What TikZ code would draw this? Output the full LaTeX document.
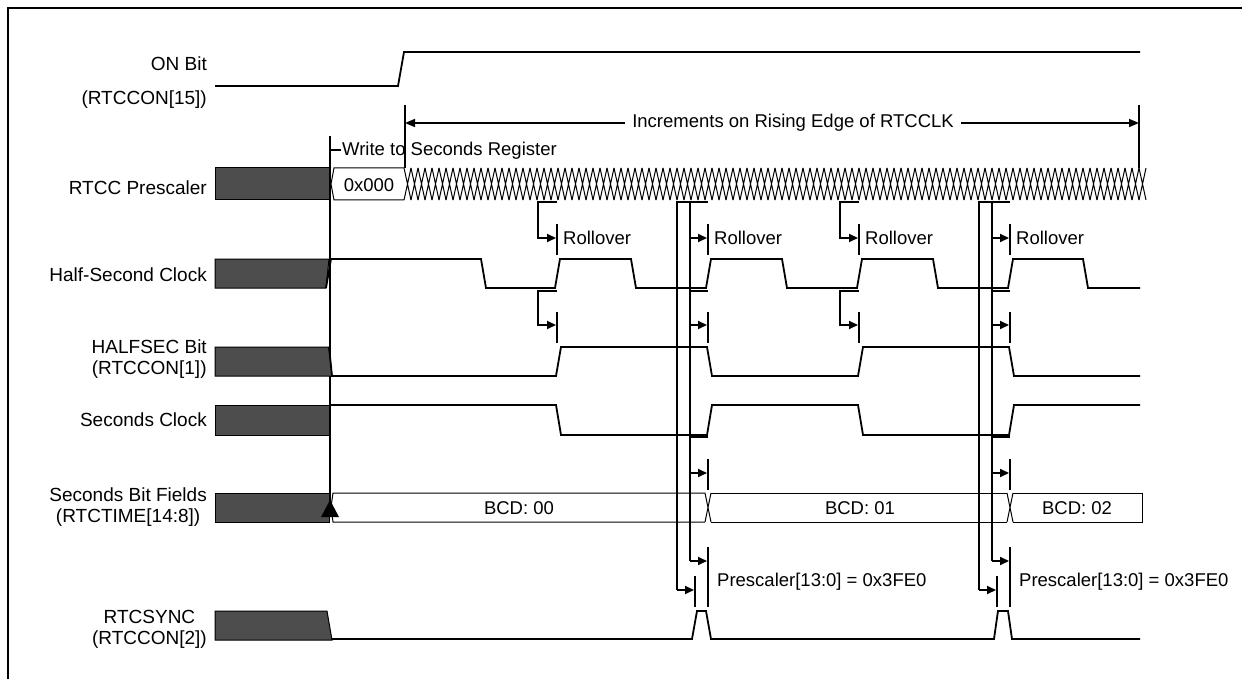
\documentclass[tikz,border=0pt]{standalone}
\usepackage{fontspec}
\setmainfont{Liberation Sans}
\usetikzlibrary{arrows.meta}
\definecolor{boxgray}{RGB}{77,77,77}
\newcommand{\rollsingle}[1]{%
  \draw[wave] (#1,202) -- ({#1-19},202) -- ({#1-19},238) [tipr] -- ({#1-1},238);
  \draw[wave] (#1,224) -- (#1,255);
  \node[txt,anchor=west] at ({#1+6},238) {Rollover};
  \draw[wave] (#1,291) -- ({#1-19},291) -- ({#1-19},325) [tipr] -- ({#1-1},325);
  \draw[wave] (#1,312) -- (#1,343);
}
\newcommand{\rolldouble}[1]{%
  \draw[wave] (#1,202) -- ({#1-31},202) -- ({#1-31},590);
  \draw[wave,tipr] ({#1-31},590) -- ({#1-14},590);
  \draw[wave] ({#1-18},202) -- ({#1-18},561);
  \draw[wave,tipr] ({#1-18},561) -- ({#1-1},561);
  \draw[wave,tipr] ({#1-18},238) -- ({#1-1},238);
  \draw[wave,tipr] ({#1-18},325) -- ({#1-1},325);
  \draw[wave,tipr] ({#1-18},473) -- ({#1-1},473);
  \draw[wave] ({#1-18},291) -- (#1,291);
  \draw[wave] ({#1-18},437) -- (#1,437);
  \draw[wave] (#1,224) -- (#1,255);
  \draw[wave] (#1,312) -- (#1,343);
  \draw[wave] (#1,459) -- (#1,490);
  \draw[wave] (#1,547) -- (#1,607);
  \draw[wave] ({#1-13},576) -- ({#1-13},607);
  \node[txt,anchor=west] at ({#1+6},238) {Rollover};
  \node[txt,anchor=west] at ({#1+9},582) {Prescaler[13:0] = 0x3FE0};
}
\begin{document}
\begin{tikzpicture}[x=1pt,y=-1pt,
  wave/.style={line width=1.8pt, line join=miter},
  busline/.style={line width=1pt},
  lbl/.style={font=\fontsize{19}{21}\selectfont, align=center, anchor=east, inner sep=0pt},
  txt/.style={font=\fontsize{18.5}{21}\selectfont, inner sep=0pt},
  dark/.style={fill=boxgray, draw=black, line width=1pt},
  tipr/.style={-{Triangle[length=9pt,width=8pt]}},
]
\useasboundingbox (0,0) rectangle (1242,679);
% frame
\draw[line width=2.5pt] (8,679) -- (8,8) -- (1242,8);

% labels
\node[lbl] (lon) at (207,64) {ON Bit};
\node[lbl] (lon2) at (207,100) {(RTCCON[15])};
\node[lbl] (lpre) at (207,188) {RTCC Prescaler};
\node[lbl] (lhalf) at (207,275) {Half-Second Clock};
\node[lbl] (lhb) at (207,359) {HALFSEC Bit\\(RTCCON[1])};
\node[lbl] (lsec) at (207,420) {Seconds Clock};
\node[lbl] (lsbf) at (207,507) {Seconds Bit Fields\\(RTCTIME[14:8])};
\node[lbl] (lsync) at (207,629) {RTCSYNC\\(RTCCON[2])};

% ON bit
\draw[wave] (215,86) -- (398,86) -- (404,52) -- (1140,52);

% increments arrow
\coordinate (incL) at (405,123);
\coordinate (incR) at (1139,123);
\draw[line width=1.5pt] (405,105) -- (405,168);
\draw[line width=1.5pt] (1139,105) -- (1139,168);
\draw[line width=1.5pt, {Triangle[length=10pt,width=8pt]}-{Triangle[length=10pt,width=8pt]}] (incL) -- (incR);
\node[txt, fill=white, inner xsep=7pt, inner ysep=4pt] (inc) at (793,123) {Increments on Rising Edge of RTCCLK};

% write to seconds register
\draw[line width=1.8pt] (330,136) -- (330,510);
\draw[line width=1.5pt] (330,150) -- (341,150);
\node[txt, anchor=west] (wr) at (342,151) {Write to Seconds Register};

% prescaler
\draw[dark] (215,168) rectangle (329,200);
\draw[busline] (404,168) -- (334,168) -- (331,184) -- (334,200) -- (404,200);
\node[txt] (p0) at (369,185) {0x000};
\foreach \i in {0,...,105} {
  \draw[busline] ({404+7*\i},168) -- ({411+7*\i},200) ({404+7*\i},200) -- ({411+7*\i},168);
}

% half-second clock
\draw[dark] (215,259) -- (329,259) -- (326,288) -- (215,288) -- cycle;
\draw[wave] (326,288) -- (331,259) -- (481,259) -- (486,288) -- (555,288) -- (560,259) -- (631,259) -- (636,288) -- (706,288) -- (711,259) -- (782,259) -- (787,288) -- (857,288) -- (862,259) -- (933,259) -- (938,288) -- (1008,288) -- (1013,259) -- (1083,259) -- (1088,288) -- (1140,288);

% HALFSEC bit
\draw[dark] (215,347) -- (329,347) -- (332,376) -- (215,376) -- cycle;
\draw[wave] (329,347) -- (332,376) -- (556,376) -- (561,347) -- (707,347) -- (712,376) -- (858,376) -- (863,347) -- (1009,347) -- (1014,376) -- (1140,376);

% seconds clock
\draw[dark] (215,405) -- (329,405) -- (329,435) -- (215,435) -- cycle;
\draw[wave] (329,405) -- (556,405) -- (561,435) -- (707,435) -- (712,405) -- (858,405) -- (863,435) -- (1009,435) -- (1014,405) -- (1140,405);

% seconds bit fields
\draw[dark] (215,493) rectangle (329,522);
\draw[busline] (705,493) -- (333,493) -- (331,507) -- (333,522) -- (705,522);
\draw[busline] (705,493) -- (711,522) (705,522) -- (711,493);
\draw[busline] (711,493) -- (1007,493) (711,522) -- (1007,522);
\draw[busline] (1007,493) -- (1013,522) (1007,522) -- (1013,493);
\draw[busline] (1013,493) -- (1142,493) -- (1142,522) -- (1013,522);
\node[txt] (b0) at (519,508) {BCD: 00};
\node[txt] (b1) at (860,508) {BCD: 01};
\node[txt] (b2) at (1077,508) {BCD: 02};
\fill (330,500) -- (339,517) -- (321,517) -- cycle;

% RTCSYNC
\draw[dark] (215,611) -- (327,611) -- (332,640) -- (215,640) -- cycle;
\draw[wave] (332,639) -- (692,639) -- (697,611) -- (706,611) -- (711,639) -- (994,639) -- (998,611) -- (1008,611) -- (1012,639) -- (1140,639);

% rollover markers
\rollsingle{557}
\rolldouble{708}
\rollsingle{859}
\rolldouble{1010}

\end{tikzpicture}
\end{document}
